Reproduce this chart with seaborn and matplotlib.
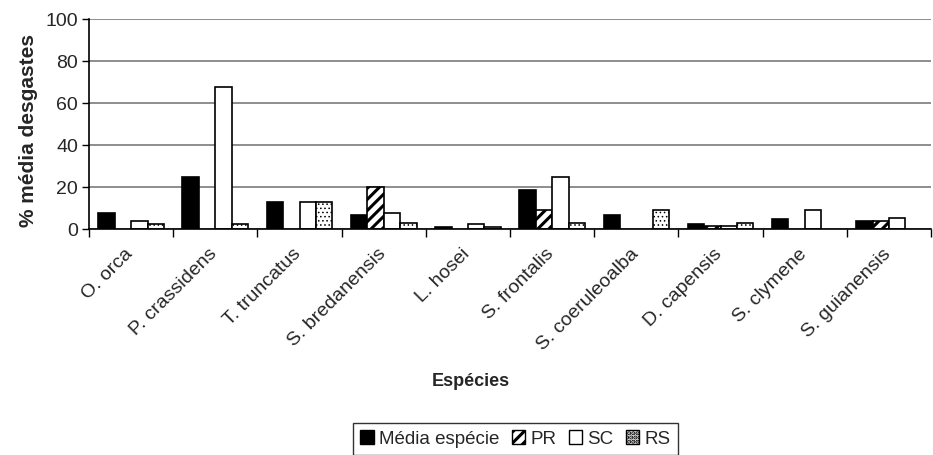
import numpy as np
import pandas as pd
import matplotlib
matplotlib.use("Agg")
import matplotlib.pyplot as plt
import seaborn as sns
from matplotlib.patches import Patch

species = ["O. orca", "P. crassidens", "T. truncatus", "S. bredanensis", "L. hosei",
           "S. frontalis", "S. coeruleoalba", "D. capensis", "S. clymene", "S. guianensis"]
series = ["Média espécie", "PR", "SC", "RS"]

media = [7.4, 25.0, 12.7, 6.7, 1.0, 18.6, 6.7, 2.4, 4.6, 4.0]
pr    = [0.0, 0.0, 0.0, 20.0, 0.0, 8.9, 0.0, 1.6, 0.0, 4.0]
sc    = [3.8, 67.8, 12.7, 7.4, 2.2, 25.0, 0.0, 1.6, 8.9, 5.2]
rs    = [2.2, 2.2, 12.7, 3.0, 1.0, 3.0, 8.9, 3.0, 0.0, 0.0]

yticks = [0, 20, 40, 60, 80, 100]

df = pd.DataFrame({
    "Espécies": species * 4,
    "Série": np.repeat(series, len(species)),
    "valor": media + pr + sc + rs,
})

sns.set_theme(style="white")
plt.rcParams["font.family"] = ["Liberation Sans", "DejaVu Sans"]
plt.rcParams["hatch.linewidth"] = 2.2

fig = plt.figure(figsize=(9.33, 4.55), dpi=100)
ax = fig.add_axes([0.0954, 0.4967, 0.9026, 0.4615])

palette = {"Média espécie": "black", "PR": "white", "SC": "white", "RS": "white"}
sns.barplot(data=df, x="Espécies", y="valor", hue="Série", hue_order=series,
            palette=palette, width=0.78, edgecolor="black", linewidth=1.2,
            saturation=1, ax=ax, legend=False, zorder=3)

hatches = {"Média espécie": "", "PR": "///", "SC": "", "RS": "...."}
for cont, name in zip(ax.containers, series):
    for bar in cont:
        bar.set_hatch(hatches[name])
        if name == "RS" and hasattr(bar, "set_hatch_linewidth"):
            bar.set_hatch_linewidth(0.6)
        if bar.get_height() == 0:
            bar.set_visible(False)

ax.set_ylim(0, 100)
ax.set_xlim(-0.5, len(species) - 0.5)
ax.set_yticks(yticks)
ax.set_yticklabels([str(t) for t in yticks], fontsize=14)
ax.yaxis.grid(True, color="#7a7a7a", linewidth=1.2, zorder=0)
ax.set_axisbelow(True)

# category boundaries carry the tick marks; names hang just left of each centre
ax.set_xticks(np.arange(-0.5, len(species), 1.0))
ax.set_xticklabels([])
ax.set_xticks(np.arange(len(species)) - 0.08, minor=True)
ax.set_xticklabels(species, minor=True, rotation=45, ha="right",
                   rotation_mode="anchor", fontsize=14)
ax.tick_params(axis="x", which="major", length=6, width=1, color="black", direction="out", bottom=True)
ax.tick_params(axis="x", which="minor", length=0, pad=12)
ax.tick_params(axis="y", length=5, width=1, color="black", direction="out", left=True, pad=3)

for side in ["top", "right"]:
    ax.spines[side].set_visible(False)
for side in ["left", "bottom"]:
    ax.spines[side].set_color("black")
    ax.spines[side].set_linewidth(1.2)
    ax.spines[side].set_zorder(4)

ax.set_ylabel("% média desgastes", fontsize=15, fontweight="bold")
ax.yaxis.set_label_coords(-0.06, 0.47)
ax.set_xlabel("")
fig.text(0.505, 0.162, "Espécies", ha="center", va="center", fontsize=13, fontweight="bold")

handles = [Patch(facecolor=palette[s], edgecolor="black", hatch=hatches[s], linewidth=1) for s in series]
leg = fig.legend(handles, series, loc="lower center", bbox_to_anchor=(0.5525, 0.0), ncol=4,
                 frameon=True, fancybox=False, edgecolor="black", fontsize=13.5,
                 handlelength=0.7, handleheight=0.7, handletextpad=0.3, columnspacing=0.65,
                 borderpad=0.4, borderaxespad=0.0)
leg.get_frame().set_linewidth(1)

fig.savefig("out.png", dpi=100)
